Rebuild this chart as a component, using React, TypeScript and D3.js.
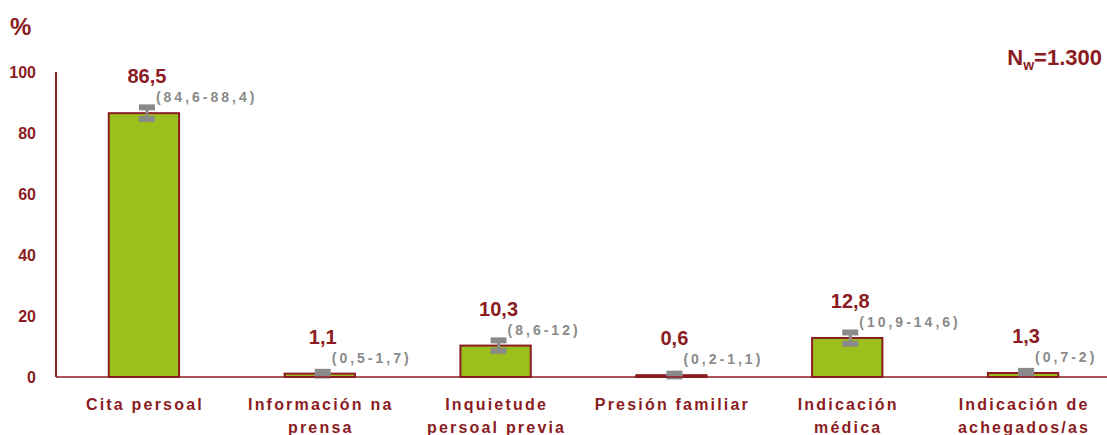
import React from 'react';
import * as d3 from 'd3';

const categories = [
  ['Cita persoal'],
  ['Información na', 'prensa'],
  ['Inquietude', 'persoal previa'],
  ['Presión familiar'],
  ['Indicación', 'médica'],
  ['Indicación de', 'achegados/as'],
];
const values = [86.5, 1.1, 10.3, 0.6, 12.8, 1.3];
const lower = [84.6, 0.5, 8.6, 0.2, 10.9, 0.7];
const upper = [88.4, 1.7, 12, 1.1, 14.6, 2];
const ciLabels = ['(84,6-88,4)', '(0,5-1,7)', '(8,6-12)', '(0,2-1,1)', '(10,9-14,6)', '(0,7-2)'];
const yTicks = [0, 20, 40, 60, 80, 100];

const W = 1107;
const H = 435;
const RED = '#8a1c22';
const GREEN = '#9bbf1d';
const GREY = '#8a8a8a';
const FONT = '"Liberation Sans", Arial, sans-serif';

const fmt = (v: number) => String(v).replace('.', ',');

export default function App() {
  const x = d3.scaleBand<number>()
    .domain(d3.range(values.length))
    .range([56, 1111])
    .paddingInner(0.6)
    .paddingOuter(0.3);
  const y = d3.scaleLinear().domain([0, 100]).range([377, 72]);
  const bw = x.bandwidth();

  return (
    <svg width={W} height={H} style={{ position: 'absolute', left: 0, top: 0 }} fontFamily={FONT}>
      <rect width={W} height={H} fill="#fff" />
      <text x={10} y={35} fill={RED} fontSize={24} fontWeight="bold">%</text>
      <text x={1102} y={65} fill={RED} fontSize={22} fontWeight="bold" textAnchor="end">
        N<tspan fontSize={14} dy={5}>w</tspan><tspan dy={-5}>=1.300</tspan>
      </text>

      {/* y axis */}
      <line x1={56} x2={56} y1={y(100)} y2={y(0)} stroke={RED} strokeWidth={2} />
      {yTicks.map(t => (
        <text key={t} x={36} y={y(t) + 6} fill={RED} fontSize={16} fontWeight="bold" textAnchor="end">{t}</text>
      ))}

      {/* bars */}
      {values.map((v, i) => {
        const x0 = x(i)!;
        const cx = x0 + bw / 2;
        const ex = cx + 3;
        return (
          <g key={i}>
            <rect x={x0} y={y(v)} width={bw} height={y(0) - y(v)} fill={GREEN} stroke={RED} strokeWidth={2} />
            <line x1={ex} x2={ex} y1={y(upper[i])} y2={y(lower[i])} stroke={GREY} strokeWidth={3} />
            <rect x={ex - 8} y={y(upper[i]) - 3} width={16} height={6} fill={GREY} />
            <rect x={ex - 8} y={y(lower[i]) - 3} width={16} height={6} fill={GREY} />
            <text x={cx + 3} y={y(v) - 30} fill={RED} fontSize={20} fontWeight="bold" textAnchor="middle">{fmt(v)}</text>
            <text x={cx + 12} y={y(v) - 11} fill={GREY} fontSize={14} fontWeight="bold" letterSpacing={3}>{ciLabels[i]}</text>
          </g>
        );
      })}

      {/* zero line */}
      <line x1={56} x2={W} y1={y(0)} y2={y(0)} stroke={RED} strokeWidth={1.5} />

      {/* category labels */}
      {categories.map((lines, i) => (
        <text key={i} fill={RED} fontSize={16} fontWeight="bold" letterSpacing={2.2} textAnchor="middle">
          {lines.map((l, j) => (
            <tspan key={j} x={x(i)! + bw / 2 + 1} y={410 + j * 23}>{l}</tspan>
          ))}
        </text>
      ))}
    </svg>
  );
}
